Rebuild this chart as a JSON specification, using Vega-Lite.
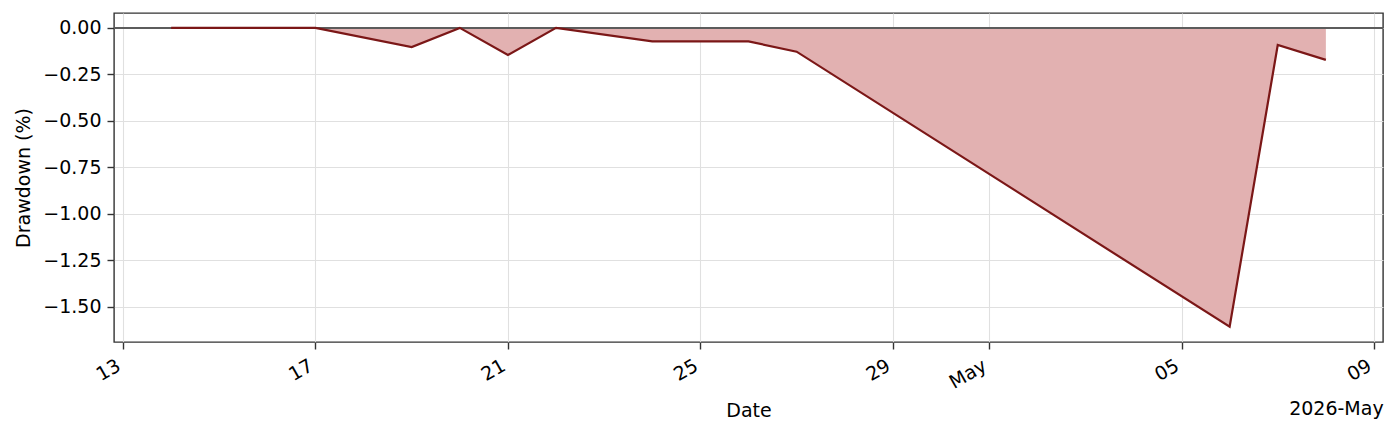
{
  "$schema": "https://vega.github.io/schema/vega-lite/v6.json",
  "description": "Drawdown (%) over time, Apr-May 2026.",
  "width": 1269,
  "height": 329,
  "autosize": {"type": "none"},
  "padding": {"left": 114, "top": 13, "right": 15, "bottom": 91},
  "background": "white",
  "config": {
    "font": "DejaVu Sans",
    "view": {"stroke": "#333333", "strokeWidth": 1.4},
    "axis": {
      "labelFont": "DejaVu Sans",
      "titleFont": "DejaVu Sans",
      "labelFontSize": 19,
      "titleFontSize": 19,
      "labelColor": "#000000",
      "titleColor": "#000000",
      "titleFontWeight": "normal",
      "domain": false,
      "tickColor": "#333333",
      "tickSize": 7,
      "tickWidth": 1.4,
      "gridColor": "#e0e0e0",
      "gridWidth": 1.1
    }
  },
  "title": {
    "text": "2026-May",
    "orient": "bottom",
    "anchor": "end",
    "font": "DejaVu Sans",
    "fontSize": 19,
    "fontWeight": "normal",
    "color": "#000000",
    "offset": -20
  },
  "data": {
    "values": [
      {"date": "2026-04-14", "drawdown": 0},
      {"date": "2026-04-17", "drawdown": 0},
      {"date": "2026-04-19", "drawdown": -0.103},
      {"date": "2026-04-20", "drawdown": 0},
      {"date": "2026-04-21", "drawdown": -0.146},
      {"date": "2026-04-22", "drawdown": 0},
      {"date": "2026-04-24", "drawdown": -0.073},
      {"date": "2026-04-26", "drawdown": -0.073},
      {"date": "2026-04-27", "drawdown": -0.128},
      {"date": "2026-05-06", "drawdown": -1.608},
      {"date": "2026-05-07", "drawdown": -0.092},
      {"date": "2026-05-08", "drawdown": -0.172}
    ]
  },
  "encoding": {
    "x": {
      "field": "date",
      "type": "temporal",
      "title": "Date",
      "scale": {
        "type": "utc",
        "domain": [
          {"year": 2026, "month": 4, "date": 12, "hours": 19, "minutes": 30, "utc": true},
          {"year": 2026, "month": 5, "date": 9, "hours": 4, "minutes": 30, "utc": true}
        ],
        "nice": false
      },
      "axis": {
        "values": [
          {"year": 2026, "month": 4, "date": 13, "utc": true},
          {"year": 2026, "month": 4, "date": 17, "utc": true},
          {"year": 2026, "month": 4, "date": 21, "utc": true},
          {"year": 2026, "month": 4, "date": 25, "utc": true},
          {"year": 2026, "month": 4, "date": 29, "utc": true},
          {"year": 2026, "month": 5, "date": 1, "utc": true},
          {"year": 2026, "month": 5, "date": 5, "utc": true},
          {"year": 2026, "month": 5, "date": 9, "utc": true}
        ],
        "labelExpr": "utcdate(datum.value) === 1 ? utcFormat(datum.value, '%b') : utcFormat(datum.value, '%d')",
        "labelAngle": -30,
        "labelAlign": "right",
        "labelBaseline": "top",
        "labelPadding": 7,
        "labelOffset": -9,
        "titlePadding": 9
      }
    },
    "y": {
      "field": "drawdown",
      "type": "quantitative",
      "title": "Drawdown (%)",
      "scale": {"domain": [-1.69, 0.08], "nice": false, "zero": false},
      "axis": {
        "values": [0, -0.25, -0.5, -0.75, -1, -1.25, -1.5],
        "labelExpr": "replace(format(datum.value, '.2f'), '-', '\u2212')",
        "labelPadding": 6,
        "titlePadding": 9
      }
    }
  },
  "layer": [
    {
      "mark": {"type": "area", "color": "#e2b1b1", "opacity": 1},
      "encoding": {"y2": {"datum": 0}}
    },
    {
      "mark": {"type": "rule", "color": "#5c5c5c", "strokeWidth": 1.3},
      "encoding": {"y": {"datum": 0}, "x": {"value": 0}, "x2": {"value": 1269}}
    },
    {
      "mark": {"type": "line", "color": "#7b1717", "strokeWidth": 2.2}
    }
  ]
}
